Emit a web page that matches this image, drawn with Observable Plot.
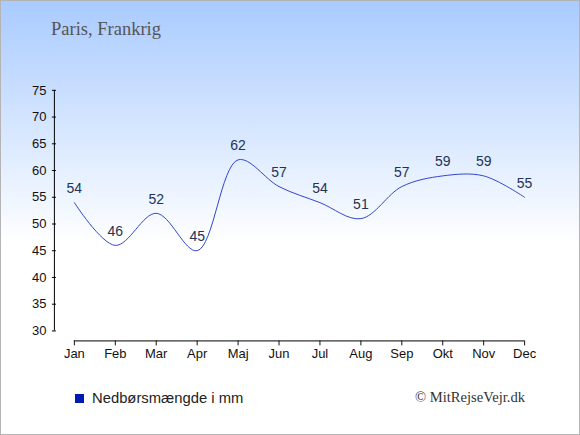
<!DOCTYPE html>
<html>
<head>
<meta charset="utf-8">
<script src="https://cdn.jsdelivr.net/npm/d3@7"></script>
<script src="https://cdn.jsdelivr.net/npm/@observablehq/plot@0.6"></script>
<style>
  html, body { margin: 0; padding: 0; }
  #wrap {
    position: relative; width: 580px; height: 435px; box-sizing: border-box;
    border: 1px solid #b4b4b4;
    background: linear-gradient(to bottom, #a9cbff 0%, #ffffff 56%, #ffffff 100%);
    overflow: hidden;
  }
  #title { position: absolute; left: 50px; top: 18px; font: 18.5px "Liberation Serif", "DejaVu Serif", serif; color: #555; }
  #legend { position: absolute; left: 74px; top: 389px; font: 14.8px "Liberation Sans", Arial, sans-serif; color: #222; }
  #legend span.sw { display: inline-block; width: 9px; height: 9px; background: #0019b0; margin-right: 8px; vertical-align: 0px; }
  #copy { position: absolute; right: 54px; top: 388px; font: 14.6px "Liberation Serif", "DejaVu Serif", serif; color: #333; }
  #chart { position: absolute; left: -1px; top: -1px; }
</style>
</head>
<body>
<div id="wrap">
  <div id="chart"></div>
  <div id="title">Paris, Frankrig</div>
  <div id="legend"><span class="sw"></span>Nedbørsmængde i mm</div>
  <div id="copy">© MitRejseVejr.dk</div>
</div>
<script>
const months = ["Jan","Feb","Mar","Apr","Maj","Jun","Jul","Aug","Sep","Okt","Nov","Dec"];
const rain = [54, 46, 52, 45, 62, 57, 54, 51, 57, 59, 59, 55];
const yTicks = [30, 35, 40, 45, 50, 55, 60, 65, 70, 75];

const data = months.map((m, i) => ({i, m, v: rain[i]}));

const xmin = -20 / 41;
const ymin = 30 - 10 * (46.867 / 251);
const tickHalf = 2 / 41;

const chart = Plot.plot({
  width: 580,
  height: 435,
  marginLeft: 54,
  marginRight: 55,
  marginTop: 90,
  marginBottom: 94,
  style: {background: "transparent", fontFamily: "'Liberation Sans', Arial, sans-serif", fontSize: "13px", color: "#111"},
  x: {domain: [xmin, 11], axis: null},
  y: {domain: [ymin, 75], axis: null},
  marks: [
    Plot.ruleX([xmin], {y1: 30, y2: 75, stroke: "#000"}),
    Plot.ruleY(yTicks, {x1: xmin - tickHalf, x2: xmin + tickHalf, stroke: "#000"}),
    Plot.axisY({ticks: yTicks, tickSize: 0, tickPadding: 8, label: null, fill: "#111"}),
    Plot.ruleY([ymin], {x1: 0, x2: 11, stroke: "#000"}),
    Plot.axisX({ticks: d3.range(12), tickFormat: i => months[i], tickSize: 5, tickPadding: 3, label: null, fill: "#111"}),
    Plot.line(data, {x: "i", y: "v", curve: "catmull-rom", stroke: "#3344cc", strokeWidth: 1}),
    Plot.text(data, {x: "i", y: "v", text: d => String(d.v), dy: -14, fill: "#223355", fontSize: 14})
  ]
});
document.getElementById("chart").appendChild(chart);
</script>
</body>
</html>
